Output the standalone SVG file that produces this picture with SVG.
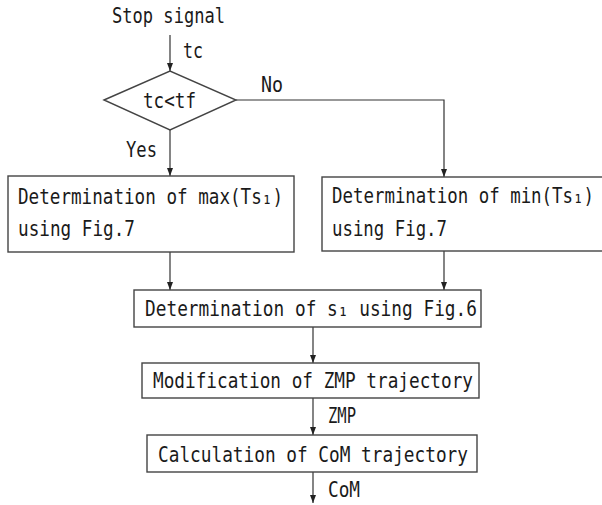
<svg xmlns="http://www.w3.org/2000/svg" width="602" height="505" viewBox="0 0 602 505">
<defs>
<marker id="ah" markerUnits="userSpaceOnUse" markerWidth="8" markerHeight="8" refX="8" refY="3" orient="auto">
<path d="M0,0 L8,3 L0,6 z" fill="#222"/>
</marker>
<style>
text{font-family:"DejaVu Sans Mono","Liberation Mono",monospace;font-size:21px;fill:#1a1a1a}
.box{fill:#fff;stroke:#444;stroke-width:1.4}
.ln{fill:none;stroke:#333;stroke-width:1.2}
</style>
</defs>
<rect width="602" height="505" fill="#fff"/>
<g id="connectors">
<line class="ln" x1="170" y1="35" x2="170" y2="71" marker-end="url(#ah)"/>
<line class="ln" x1="170" y1="130" x2="170" y2="176" marker-end="url(#ah)"/>
<polyline class="ln" points="236,100 444,100 444,177" marker-end="url(#ah)"/>
<line class="ln" x1="170" y1="252" x2="170" y2="290" marker-end="url(#ah)"/>
<line class="ln" x1="444" y1="251" x2="444" y2="290" marker-end="url(#ah)"/>
<line class="ln" x1="313" y1="327" x2="313" y2="363" marker-end="url(#ah)"/>
<line class="ln" x1="313" y1="398" x2="313" y2="435" marker-end="url(#ah)"/>
<line class="ln" x1="313" y1="472" x2="313" y2="503" marker-end="url(#ah)"/>
<text x="183" y="58" textLength="20" lengthAdjust="spacingAndGlyphs">tc</text>
<text x="261" y="92" textLength="22" lengthAdjust="spacingAndGlyphs">No</text>
<text x="126" y="157" textLength="31" lengthAdjust="spacingAndGlyphs">Yes</text>
<text x="328" y="423" textLength="28" lengthAdjust="spacingAndGlyphs">ZMP</text>
<text x="328" y="497" textLength="32" lengthAdjust="spacingAndGlyphs">CoM</text>
</g>
<g id="start">
<text x="112" y="23" textLength="113" lengthAdjust="spacingAndGlyphs">Stop signal</text>
</g>
<g id="decision">
<polygon class="box" points="104,100 170,71 236,100 170,130"/>
<text x="143" y="108" textLength="53" lengthAdjust="spacingAndGlyphs">tc&lt;tf</text>
</g>
<g id="maxTs">
<rect class="box" x="8" y="176" width="286" height="76"/>
<text x="18" y="204" textLength="265" lengthAdjust="spacingAndGlyphs">Determination of max(Ts₁)</text>
<text x="18" y="236" textLength="117" lengthAdjust="spacingAndGlyphs">using Fig.7</text>
</g>
<g id="minTs">
<rect class="box" x="322" y="177" width="290" height="74"/>
<text x="332" y="203" textLength="262" lengthAdjust="spacingAndGlyphs">Determination of min(Ts₁)</text>
<text x="332" y="236" textLength="115" lengthAdjust="spacingAndGlyphs">using Fig.7</text>
</g>
<g id="s1">
<rect class="box" x="134" y="290" width="347" height="37"/>
<text x="145" y="316" textLength="332" lengthAdjust="spacingAndGlyphs">Determination of s₁ using Fig.6</text>
</g>
<g id="zmp">
<rect class="box" x="142" y="363" width="337" height="35"/>
<text x="153" y="388" textLength="320" lengthAdjust="spacingAndGlyphs">Modification of ZMP trajectory</text>
</g>
<g id="com">
<rect class="box" x="147" y="435" width="330" height="37"/>
<text x="158" y="462" textLength="310" lengthAdjust="spacingAndGlyphs">Calculation of CoM trajectory</text>
</g>
</svg>
